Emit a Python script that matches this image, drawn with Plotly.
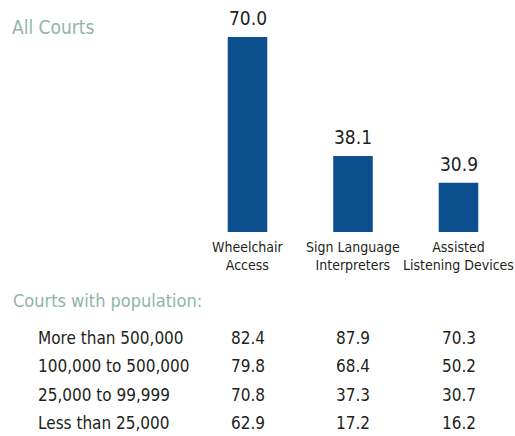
import plotly.graph_objects as go

categories = ["Wheelchair<br>Access", "Sign Language<br>Interpreters", "Assisted<br>Listening Devices"]
all_courts = [70.0, 38.1, 30.9]

population_groups = ["More than 500,000", "100,000 to 500,000", "25,000 to 99,999", "Less than 25,000"]
wheelchair = [82.4, 79.8, 70.8, 62.9]
sign_language = [87.9, 68.4, 37.3, 17.2]
listening = [70.3, 50.2, 30.7, 16.2]

FONT = "DejaVu Sans Condensed, sans-serif"
BLUE = "#0b4f8f"
GREEN = "#8fb5a8"
DARK = "#231f20"

W, H = 515, 436
AXIS_MIN = 17.7
xs = list(range(len(categories)))

fig = go.Figure()
fig.add_trace(go.Bar(
    x=xs,
    y=all_courts,
    width=0.375,
    marker=dict(color=BLUE, line=dict(width=0)),
    hoverinfo="skip",
))

# value labels above bars
for i, v in zip(xs, all_courts):
    fig.add_annotation(x=i, y=v, xref="x", yref="y", text=f"{v:.1f}",
                       showarrow=False, yanchor="bottom", yshift=6,
                       font=dict(family=FONT, size=19, color=DARK))

# category labels under bars
for i, c in zip(xs, categories):
    fig.add_annotation(x=i, y=AXIS_MIN, xref="x", yref="y", text=c,
                       showarrow=False, yanchor="top", yshift=-5,
                       font=dict(family=FONT, size=14, color=DARK))

fig.add_annotation(x=10 / W, y=1 - 27 / H, xref="paper", yref="paper",
                   text="All Courts", showarrow=False, xanchor="left", yanchor="middle",
                   font=dict(family=FONT, size=19, color=GREEN))

fig.add_annotation(x=11 / W, y=1 - 300 / H, xref="paper", yref="paper",
                   text="Courts with population:", showarrow=False,
                   xanchor="left", yanchor="middle",
                   font=dict(family=FONT, size=18, color=GREEN))

row_y0, row_step = 338, 28.3
for r, label in enumerate(population_groups):
    yp = 1 - (row_y0 + r * row_step) / H
    fig.add_annotation(x=36 / W, y=yp, xref="paper", yref="paper", text=label,
                       showarrow=False, xanchor="left", yanchor="middle",
                       font=dict(family=FONT, size=17, color=DARK))
    for i, col in zip(xs, [wheelchair, sign_language, listening]):
        fig.add_annotation(x=i, y=yp, xref="x", yref="paper", text=f"{col[r]:.1f}",
                           showarrow=False, xanchor="center", yanchor="middle",
                           font=dict(family=FONT, size=17, color=DARK))

step = 105.5
x0 = 247.5
fig.update_layout(
    width=W, height=H,
    margin=dict(l=0, r=0, t=0, b=0),
    paper_bgcolor="white", plot_bgcolor="white",
    showlegend=False,
    xaxis=dict(range=[-x0 / step, (W - x0) / step], visible=False,
               showgrid=False, zeroline=False),
    yaxis=dict(range=[AXIS_MIN, 79.9], domain=[1 - 232 / H, 1], visible=False,
               showgrid=False, zeroline=False),
)

fig.write_html("out.html", config={"displayModeBar": False},
               post_script="document.body.style.margin='0';")
